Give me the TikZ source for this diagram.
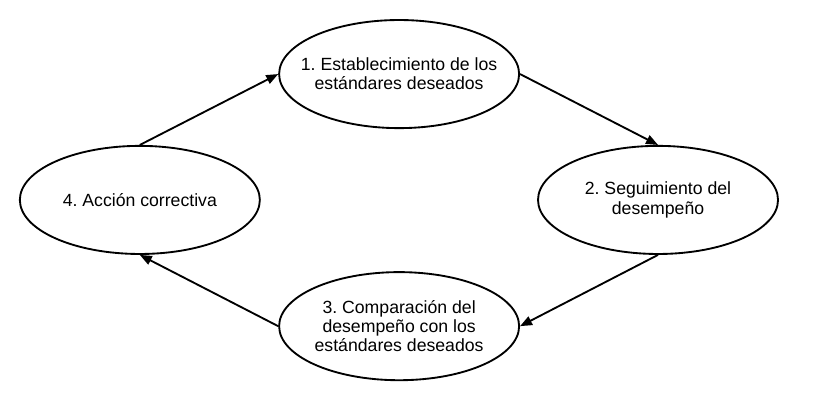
\documentclass[tikz,border=0pt]{standalone}
\usepackage{fontspec}
\setmainfont{Liberation Sans}
\usetikzlibrary{arrows.meta,shapes.geometric}
\frenchspacing

\tikzset{
	etapa/.style={draw, ellipse, line width=1.4pt, minimum width=6.35cm, minimum height=2.86cm,
		inner xsep=-14pt, inner ysep=0pt, align=center, font=\fontsize{13.3}{14.4}\selectfont},
	flecha/.style={line width=1.4pt, -{Triangle[length=9pt,width=7pt]}}
}

\begin{document}
\begin{tikzpicture}
			%%%%% START %%%%%
			
			\useasboundingbox (0, 0) rectangle (21.59, 10.69);
			
			\node[etapa] (fijar) at (10.56, 8.73) {1. Establecimiento de los\\estándares deseados};
			\node[etapa] (seguir) at (17.41, 5.40) {2. Seguimiento del\\desempeño};
			\node[etapa] (comparar) at (10.56, 2.06) {3. Comparación del\\desempeño con los\\estándares deseados};
			\node[etapa] (corregir) at (3.70, 5.40) {4. Acción correctiva};
			
			\draw[flecha] (fijar.east) -- (seguir.north);
			\draw[flecha] (seguir.south) -- (comparar.east);
			\draw[flecha] (comparar.west) -- (corregir.south);
			\draw[flecha] (corregir.north) -- (fijar.west);
			
			%%%%% END %%%%%
		\end{tikzpicture}
\end{document}
